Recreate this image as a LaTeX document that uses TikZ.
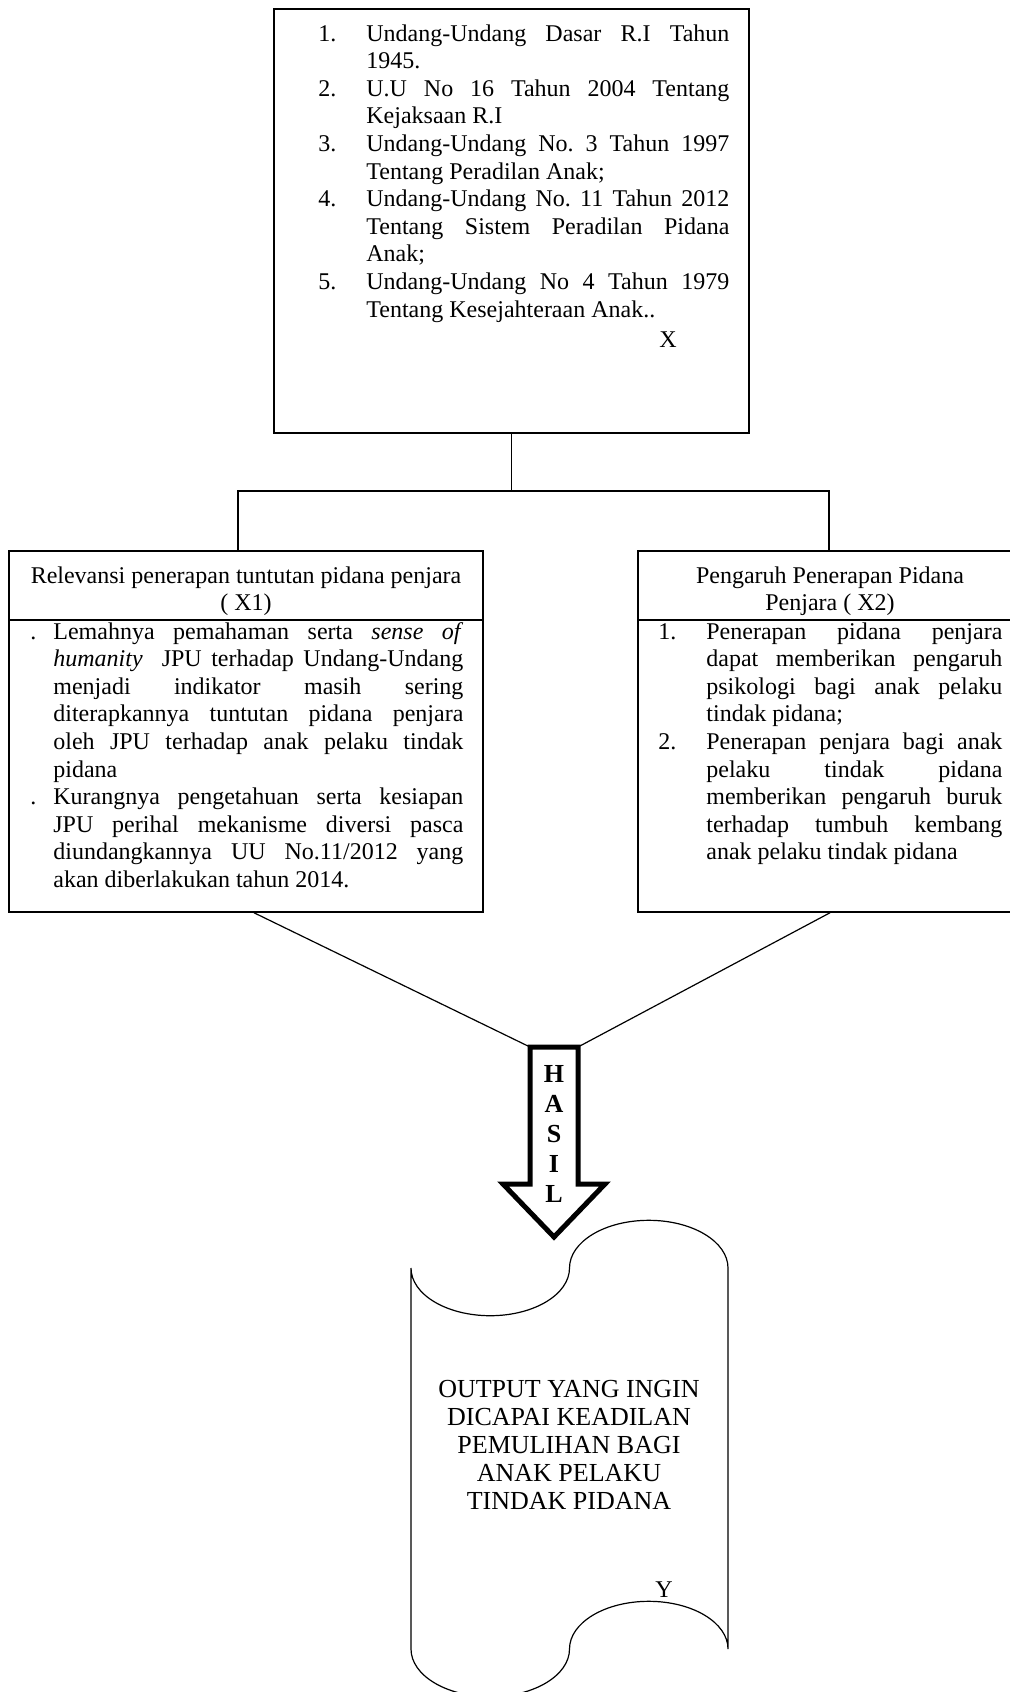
\documentclass[tikz,border=0pt]{standalone}
\usepackage{fontspec}
\setmainfont{Liberation Serif}
\usetikzlibrary{fit}
\frenchspacing
\newcommand{\JL}[1]{\makebox[\linewidth][s]{#1}\par}
\newcommand{\NUM}[2][24pt]{\leavevmode\llap{\makebox[#1][l]{#2}}}
\begin{document}
\begin{tikzpicture}[x=0.5pt,y=-0.5pt,
  font=\fontsize{12}{13.8}\selectfont,
  box/.style={draw, line width=0.75pt, inner sep=0pt},
  txt/.style={inner sep=0pt, anchor=base west},
  ctxt/.style={inner sep=0pt, anchor=base},
  conn/.style={line width=0.75pt},
  thin/.style={line width=0.6pt}]
\useasboundingbox (0,0) rectangle (1010,1692);

% top box
\node[box, fit={(274,9)(749,433)}] (top) {};
\node[txt] (toplist) at (366,41) {\parbox[t]{181.5pt}{%
\NUM{1.}\JL{Undang-Undang Dasar R.I Tahun}
1945.\par
\NUM{2.}\JL{U.U No 16 Tahun 2004 Tentang}
Kejaksaan R.I\par
\NUM{3.}\JL{Undang-Undang No. 3 Tahun 1997}
Tentang Peradilan Anak;\par
\NUM{4.}\JL{Undang-Undang No. 11 Tahun 2012}
\JL{Tentang Sistem Peradilan Pidana}
Anak;\par
\NUM{5.}\JL{Undang-Undang No 4 Tahun 1979}
Tentang Kesejahteraan Anak..\par}};
\node[ctxt] (xlab) at (668,347) {X};

% left box
\node[box, fit={(9,551)(483,912)}] (lbox) {};
\draw[conn] (9,620) -- (483,620);
\node[ctxt] (lhead) at (246,583) {\parbox[t]{230pt}{\centering Relevansi penerapan tuntutan pidana penjara\par ( X1)}};
\node[txt] (lbody) at (53,639) {\parbox[t]{205pt}{%
\NUM[11.5pt]{.}\JL{Lemahnya pemahaman serta \textit{sense of}}
\JL{\textit{humanity}\ \ JPU terhadap Undang-Undang}
\JL{menjadi indikator masih sering}
\JL{diterapkannya tuntutan pidana penjara}
\JL{oleh JPU terhadap anak pelaku tindak}
pidana\par
\NUM[11.5pt]{.}\JL{Kurangnya pengetahuan serta kesiapan}
\JL{JPU perihal mekanisme diversi pasca}
\JL{diundangkannya UU No.11/2012 yang}
akan diberlakukan tahun 2014.\par}};

% right box
\node[box, fit={(638,551)(1022,912)}] (rbox) {};
\draw[conn] (638,620) -- (1022,620);
\node[ctxt] (rhead) at (830,583) {\parbox[t]{180pt}{\centering Pengaruh Penerapan Pidana\par Penjara ( X2)}};
\node[txt] (rbody) at (706,639) {\parbox[t]{148pt}{%
\NUM{1.}\JL{Penerapan pidana penjara}
\JL{dapat memberikan pengaruh}
\JL{psikologi bagi anak pelaku}
tindak pidana;\par
\NUM{2.}\JL{Penerapan penjara bagi anak}
\JL{pelaku tindak pidana}
\JL{memberikan pengaruh buruk}
\JL{terhadap tumbuh kembang}
anak pelaku tindak pidana\par}};

% elbow connector
\coordinate (jl) at (238,491);
\coordinate (jr) at (829,491);
\draw[conn] (top.south) -- (top.south |- jl);
\draw[conn] (lbox.north -| jl) -- (jl) -- (jr) -- (rbox.north -| jr);

% HASIL arrow
\coordinate (atl) at (530,1047);
\coordinate (atr) at (578,1047);
\draw[line width=2.5pt] (atl) -- (atr) -- (578,1184) -- (605,1184) -- (554,1237) -- (503,1184) -- (530,1184) -- cycle;
\node[ctxt, font=\fontsize{13}{15.1}\selectfont\bfseries] (hasil) at (554,1082) {\parbox[t]{20pt}{\centering H\par A\par S\par I\par L}};

% diagonals
\coordinate (dl) at (254,912);
\coordinate (dr) at (830,912);
\draw[thin] (lbox.south -| dl) -- (atl);
\draw[thin] (rbox.south -| dr) -- (atr);

% punched tape
\draw[thin] (411,1268)
  arc[start angle=180, end angle=360, x radius=39.625pt, y radius=23.85pt]
  arc[start angle=180, end angle=0, x radius=39.625pt, y radius=23.85pt]
  -- (728,1649)
  arc[start angle=0, end angle=180, x radius=39.625pt, y radius=23.85pt]
  arc[start angle=0, end angle=-180, x radius=39.625pt, y radius=23.85pt]
  -- cycle;
\node[ctxt, font=\fontsize{13}{14}\selectfont] (out) at (569,1397) {\parbox[t]{160pt}{\centering OUTPUT YANG INGIN\par DICAPAI KEADILAN\par PEMULIHAN BAGI\par ANAK PELAKU\par TINDAK PIDANA}};
\node[ctxt] (ylab) at (664,1597) {Y};
\end{tikzpicture}
\end{document}
